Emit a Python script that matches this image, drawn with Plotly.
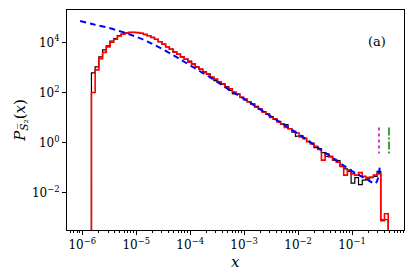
import numpy as np
import plotly.graph_objects as go

# ---- histogram bins (log-spaced) ----
log_edge_start = -5.83
log_bin_width = 0.06875
n_bins = 80

# log10 of histogram heights
red_log10 = [2.0, 2.9, 3.35, 3.6, 3.82, 4.0, 4.12, 4.25, 4.32, 4.37,
             4.39, 4.40, 4.39, 4.36, 4.32, 4.26, 4.20, 4.12, 4.02, 3.93,
             3.82, 3.73, 3.61, 3.53, 3.41, 3.33, 3.21, 3.13, 3.01, 2.93,
             2.81, 2.74, 2.61, 2.53, 2.42, 2.34, 2.21, 2.15, 2.02, 1.95,
             1.81, 1.74, 1.62, 1.55, 1.41, 1.35, 1.21, 1.15, 1.0, 0.95,
             0.82, 0.75, 0.6, 0.55, 0.45, 0.38, 0.22, 0.15, 0.03, -0.06,
             -0.15, -0.28, -0.7, -0.45, -0.55, -0.68, -0.78, -0.95, -1.3, -1.1,
             -1.25, -1.3, -1.2, -1.35, -1.4, -1.38, -1.3, -1.25, -3.12, -2.84]

black_log10 = [2.78, 3.02, 3.42, 3.7, 3.86, 4.05, 4.15, 4.27, 4.33, 4.38,
               4.40, 4.40, 4.38, 4.36, 4.31, 4.27, 4.19, 4.12, 4.03, 3.92,
               3.83, 3.72, 3.62, 3.52, 3.42, 3.32, 3.25, 3.14, 3.02, 2.92,
               2.83, 2.72, 2.60, 2.47, 2.40, 2.32, 2.23, 2.08, 1.95, 1.92,
               1.80, 1.70, 1.63, 1.52, 1.44, 1.32, 1.24, 1.12, 1.04, 0.92,
               0.85, 0.73, 0.72, 0.55, 0.42, 0.25, 0.28, 0.18, 0.05, -0.02,
               -0.2, -0.24, -0.4, -0.55, -0.58, -0.7, -0.72, -0.95, -1.05, -1.15,
               -1.62, -1.4, -1.68, -1.5, -1.45, -1.4, -1.35, -1.15, -3.08, -3.08]

# theory curve (blue dashed), log10 x and log10 P
theory_log10_x = [-6.04, -5.8, -5.5, -5.24, -5.0, -4.8, -4.6, -4.3, -4.0, -3.6,
                  -3.26, -3.0, -2.5, -2.0, -1.5, -1.0, -0.8, -0.7, -0.62, -0.57,
                  -0.53, -0.50, -0.48]
theory_log10_p = [4.85, 4.72, 4.57, 4.40, 4.22, 4.04, 3.83, 3.47, 3.08, 2.56,
                  2.08, 1.74, 1.04, 0.35, -0.40, -1.14, -1.38, -1.50, -1.60, -1.63,
                  -1.50, -1.20, -0.88]

# vertical marker lines
magenta_x = 0.316
green_x = 0.484
marker_y = [10 ** 0.6, 10 ** -0.44]

x_ticks = [1e-6, 1e-5, 1e-4, 1e-3, 1e-2, 1e-1]
x_ticktext = ["10<sup>−6</sup>", "10<sup>−5</sup>", "10<sup>−4</sup>",
              "10<sup>−3</sup>", "10<sup>−2</sup>", "10<sup>−1</sup>"]
y_ticks = [1e-2, 1e0, 1e2, 1e4]
y_ticktext = ["10<sup>−2</sup>", "10<sup>0</sup>", "10<sup>2</sup>", "10<sup>4</sup>"]

edges = 10 ** (log_edge_start + log_bin_width * np.arange(n_bins + 1))


def steps(vals_log):
    xs = [edges[0]]
    ys = [1e-12]
    for i, v in enumerate(vals_log):
        xs += [edges[i], edges[i + 1]]
        ys += [10 ** v, 10 ** v]
    xs.append(edges[-1])
    ys.append(1e-12)
    return xs, ys


FONT = "DejaVu Serif"
fig = go.Figure()

bx, by = steps(black_log10)
fig.add_trace(go.Scatter(x=bx, y=by, mode="lines", line=dict(color="black", width=1.2),
                         showlegend=False))
rx, ry = steps(red_log10)
fig.add_trace(go.Scatter(x=rx, y=ry, mode="lines", line=dict(color="#ff0000", width=1.6),
                         showlegend=False))
fig.add_trace(go.Scatter(x=[10 ** v for v in theory_log10_x],
                         y=[10 ** v for v in theory_log10_p],
                         mode="lines", line=dict(color="#0000ff", width=2, dash="6px,4px", shape="spline"),
                         showlegend=False))
fig.add_trace(go.Scatter(x=[magenta_x, magenta_x], y=marker_y, mode="lines",
                         line=dict(color="#bf00bf", width=1.5, dash="dot"), showlegend=False))
fig.add_trace(go.Scatter(x=[green_x, green_x], y=marker_y, mode="lines",
                         line=dict(color="#008000", width=1.5, dash="8px,2px,2px,2px"), showlegend=False))

minor_vals = [m * 10.0 ** k for k in range(-7, 1) for m in range(2, 10)]

fig.update_layout(
    width=415, height=277,
    margin=dict(l=67, r=11, t=10, b=47),
    paper_bgcolor="white", plot_bgcolor="white",
    font=dict(family=FONT, size=12, color="black"),
    xaxis=dict(type="log", range=[-6.283, -0.037], showgrid=False, zeroline=False,
               automargin=False,
               showline=True, mirror=True, linecolor="black", linewidth=1,
               ticks="outside", ticklen=4, tickwidth=1, tickcolor="black",
               tickvals=x_ticks, ticktext=x_ticktext,
               tickfont=dict(family=FONT, size=12),
               minor=dict(ticks="outside", ticklen=2, tickwidth=0.8, tickcolor="black",
                          tickvals=minor_vals, showgrid=False)),
    yaxis=dict(type="log", range=[-3.49, 5.29], showgrid=False, zeroline=False,
               automargin=False,
               showline=True, mirror=True, linecolor="black", linewidth=1,
               ticks="outside", ticklen=4, tickwidth=1, tickcolor="black",
               tickvals=y_ticks, ticktext=y_ticktext,
               tickfont=dict(family=FONT, size=12)),
    annotations=[
        dict(text="(a)", x=0.92, y=0.855, xref="paper", yref="paper",
             xanchor="center", yanchor="middle",
             showarrow=False, font=dict(family=FONT, size=13)),
        dict(text="<i>x</i>", x=0.5, y=-0.145, xref="paper", yref="paper",
             xanchor="center", yanchor="middle",
             showarrow=False, font=dict(family=FONT, size=15)),
        dict(text="<i>P</i><sub><i>S̅</i>₂</sub>(<i>x</i>)", x=-0.14, y=0.5,
             xref="paper", yref="paper", textangle=-90,
             xanchor="center", yanchor="middle",
             showarrow=False, font=dict(family=FONT, size=15)),
    ],
)

fig.write_html("out.html", config={"displayModeBar": False},
               post_script="document.body.style.margin='0';")
